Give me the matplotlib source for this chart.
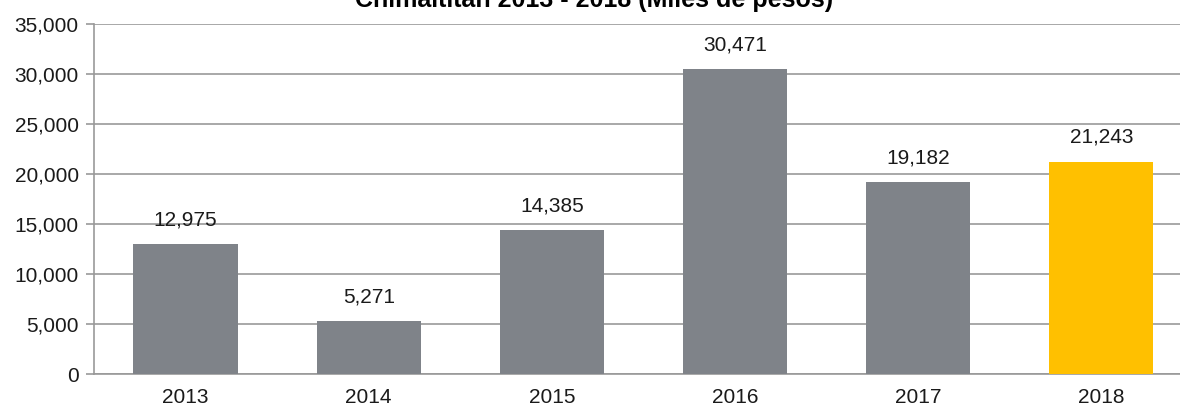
import matplotlib
matplotlib.use("Agg")
import matplotlib.pyplot as plt
from matplotlib.ticker import FuncFormatter

plt.rcParams['font.family'] = ['Liberation Sans', 'DejaVu Sans']

years = ["2013", "2014", "2015", "2016", "2017", "2018"]
values = [12975, 5271, 14385, 30471, 19182, 21243]
colors = ["#7F8389"] * 5 + ["#FFC000"]
title = "Chimaltitán 2013 - 2018 (Miles de pesos)"

W, H = 1180, 407
fig = plt.figure(figsize=(W / 100, H / 100), dpi=100)
left, right, top, bottom = 94, 1180, 24, 374
ax = fig.add_axes([left / W, 1 - bottom / H, (right - left) / W, (bottom - top) / H])

x = list(range(len(years)))
ax.bar(x, values, width=0.57, color=colors, zorder=3)
for xi, v in zip(x, values):
    ax.annotate(f"{v:,}", (xi, v), xytext=(0, 13.5), textcoords="offset points",
                ha="center", va="baseline", fontsize=15, color="#1a1a1a")

ax.set_xlim(-0.5, 5.43)
ax.set_ylim(0, 35000)
ax.set_yticks(range(0, 35001, 5000))
ax.yaxis.set_major_formatter(FuncFormatter(lambda v, p: f"{int(v):,}"))
ax.set_xticks(x)
ax.set_xticklabels(years)
ax.tick_params(axis="x", length=0, pad=10, labelsize=15, labelcolor="#1a1a1a")
ax.tick_params(axis="y", length=6, width=1.2, color="#999999", pad=5, labelsize=15, labelcolor="#1a1a1a")
ax.grid(axis="y", color="#999999", linewidth=1.2, zorder=0)
for s in ["top", "right"]:
    ax.spines[s].set_visible(False)
for s in ["left", "bottom"]:
    ax.spines[s].set_color("#999999")
    ax.spines[s].set_linewidth(1.2)

fig.text(594 / W, 1 - 6.5 / H, title, ha="center", va="baseline", fontsize=18, fontweight="bold", color="#000000")

fig.savefig("out.png", dpi=100)
